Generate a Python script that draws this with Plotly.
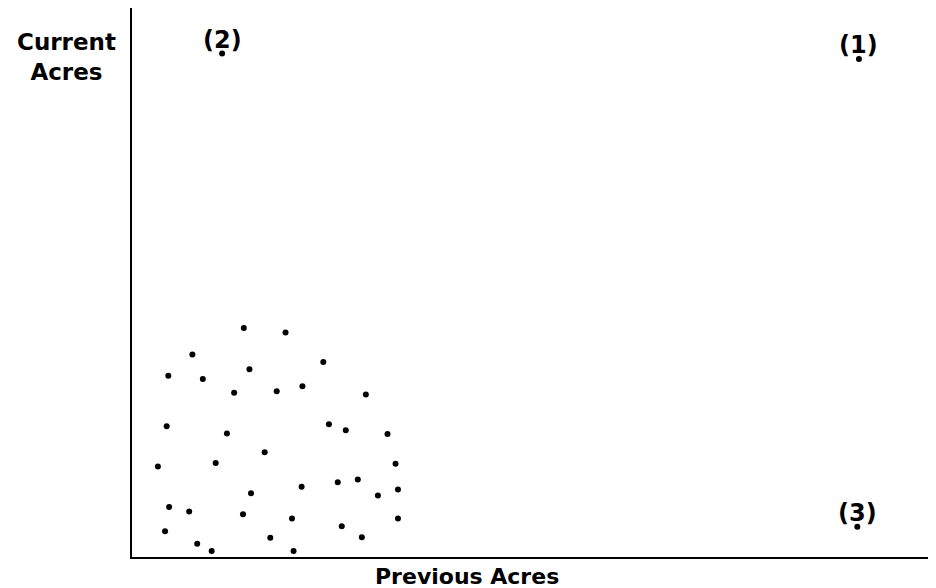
import plotly.graph_objects as go

# Scatter of farms: previous acres (x) vs current acres (y), arbitrary 0-100 units
prev_acres = [13.8, 19.0, 7.4, 23.7, 4.4, 8.7, 14.5, 12.6, 17.9, 21.1, 29.0,
              4.2, 11.7, 24.4, 26.5, 31.7, 16.4, 3.1, 10.3, 32.7, 21.0, 25.5,
              28.0, 14.7, 30.5, 33.0, 4.5, 7.0, 13.7, 19.8, 33.0, 4.0, 26.0,
              17.1, 28.5, 8.0, 9.8, 20.0]
curr_acres = [41.7, 40.9, 36.9, 35.5, 33.0, 32.4, 34.2, 29.9, 30.2, 31.1, 29.6,
              23.8, 22.5, 24.2, 23.1, 22.4, 19.1, 16.5, 17.1, 17.0, 12.8, 13.6,
              14.1, 11.6, 11.2, 12.3, 9.1, 8.3, 7.8, 7.0, 7.0, 4.7, 5.6,
              3.5, 3.6, 2.4, 1.1, 1.1]

# Labelled reference points
ref_labels = ["(2)", "(1)", "(3)"]
ref_x = [11.1, 90.4, 90.2]
ref_y = [91.7, 90.7, 5.5]

x_title = "Previous Acres"
y_title = "Current<br>Acres"

FONT = "DejaVu Sans"

fig = go.Figure()
fig.add_trace(go.Scatter(x=prev_acres, y=curr_acres, mode="markers",
                         marker=dict(color="black", size=6),
                         hoverinfo="skip", showlegend=False))
fig.add_trace(go.Scatter(x=ref_x, y=ref_y, mode="markers",
                         marker=dict(color="black", size=6),
                         hoverinfo="skip", showlegend=False))

annotations = [
    dict(text="<b>" + x_title + "</b>", xref="paper", yref="paper",
         x=0.42, xanchor="center", y=0, yanchor="middle", yshift=-19,
         showarrow=False,
         font=dict(family=FONT, size=22, color="black")),
    dict(text="<b>" + y_title + "</b>", xref="paper", yref="paper",
         x=0, xanchor="center", xshift=-66, y=0.91, yanchor="middle",
         showarrow=False, align="center",
         font=dict(family=FONT, size=23, color="black")),
]
for lab, lx, ly in zip(ref_labels, ref_x, ref_y):
    annotations.append(dict(text="<b>" + lab + "</b>", x=lx, y=ly,
                            xref="x", yref="y", xanchor="center",
                            yanchor="middle", yshift=14, showarrow=False,
                            font=dict(family=FONT, size=24, color="black")))

fig.update_layout(
    width=928, height=580,
    margin=dict(l=124, r=6, t=0, b=31),
    paper_bgcolor="white", plot_bgcolor="white",
    xaxis=dict(range=[-0.12, 99.25], showgrid=False, zeroline=False,
               showticklabels=False, ticks="", showline=True,
               linecolor="black", linewidth=2),
    yaxis=dict(range=[0, 100], showgrid=False, zeroline=False,
               showticklabels=False, ticks="", showline=True,
               linecolor="black", linewidth=2),
    annotations=annotations,
)

fig.write_html("out.html")
